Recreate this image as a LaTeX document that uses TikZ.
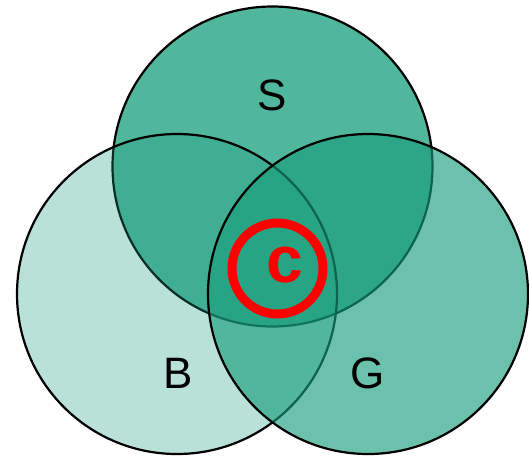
\documentclass[tikz,border=0pt]{standalone}
\usepackage{fontspec}
\setmainfont{Liberation Sans}
\usetikzlibrary{positioning}
\definecolor{vennteal}{RGB}{22,157,123}

\begin{document}
\begin{tikzpicture}[x=1pt,y=-1pt,
set/.style={circle,draw=black,line width=2.2pt,fill=vennteal,minimum size=320pt,inner sep=0pt},
setS/.style={set,fill opacity=0.75},
setB/.style={set,fill opacity=0.30},
setG/.style={set,fill opacity=0.63},
lbl/.style={font=\fontsize{44}{44}\selectfont},]
\useasboundingbox (0,0) rectangle (529,456);
\node[setS] (S) at (272.5,166.5) {};
\node[setB] (B) at (177,294) {};
\node[setG] (G) at (368,294) {};
\node[lbl] (labS) at (272,95) {S};
\node[lbl] (labB) at (178,373) {B};
\node[lbl] (labG) at (368,373) {G};
\node[circle,draw=red,line width=9pt,minimum size=91pt,inner sep=0pt] (ring) at (277.5,268.5) {};
\node[text=red,font=\fontsize{66}{66}\bfseries] (c) at (285,265) {c};
\end{tikzpicture}
\end{document}
